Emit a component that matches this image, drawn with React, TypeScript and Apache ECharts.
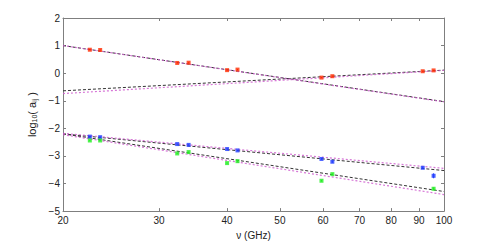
import React, { useEffect, useRef } from "react";
import * as echarts from "echarts";

// Frequencies (GHz) of the measured points
const nu = [22.4, 23.4, 32.4, 34.0, 40.0, 41.8, 59.6, 62.4, 91.4, 95.7];
// log10(a_ij) values
const redVals = [0.85, 0.84, 0.37, 0.38, 0.11, 0.13, -0.16, -0.11, 0.07, 0.1];
const blueVals = [-2.3, -2.32, -2.57, -2.6, -2.75, -2.8, -3.11, -3.21, -3.43, -3.72];
const greenVals = [-2.44, -2.44, -2.91, -2.86, -3.26, -3.19, -3.9, -3.66, null, -4.19];
// error bar half-heights
const redErr = [0.02, 0.02, 0.02, 0.02, 0.02, 0.02, 0.02, 0.02, 0.02, 0.02];
const blueErr = [0.02, 0.02, 0.02, 0.02, 0.02, 0.02, 0.03, 0.04, 0.03, 0.09];
const greenErr = [0.02, 0.02, 0.02, 0.02, 0.02, 0.02, 0.03, 0.03, 0.03, 0.05];

// fitted lines, values at the two ends of the axis
const fitNu = [20, 100];
const redFallBlack = [1.0, -1.03];
const redFallMagenta = [1.0, -1.04];
const redRiseBlack = [-0.64, 0.11];
const redRiseMagenta = [-0.74, 0.1];
const blueFitBlack = [-2.2, -3.53];
const blueFitMagenta = [-2.18, -3.45];
const greenFitBlack = [-2.2, -4.29];
const greenFitMagenta = [-2.23, -4.4];

// axis ticks
const xTicks = [20, 30, 40, 50, 60, 70, 80, 90, 100];
const yMin = -5;
const yMax = 2;

const lg = (v: number) => Math.log10(v);

export default function App() {
  const ref = useRef<HTMLDivElement>(null);
  useEffect(() => {
    if (!ref.current) return;
    const chart = echarts.init(ref.current, undefined, { renderer: "svg" });
    const xTickVals = xTicks.map(lg);
    const font = "Liberation Sans, Arial, sans-serif";
    const axisColor = "#7f7f7f";
    const textColor = "#222";

    const fitSeries = (vals: number[], black: boolean) => ({
      type: "line",
      data: fitNu.map((n, i) => [lg(n), vals[i]]),
      symbol: "none",
      silent: true,
      lineStyle: black
        ? { color: "#333", width: 1, type: [3, 2] as any }
        : { color: "#d060d0", width: 1.2, type: [2, 2] as any, opacity: 0.85 },
      z: black ? 2 : 3,
    });

    const pts = (vals: (number | null)[]) =>
      nu.map((n, i) => (vals[i] == null ? null : [lg(n), vals[i]])).filter((d) => d) as number[][];

    const errSeries = (vals: (number | null)[], errs: number[], color: string) => ({
      type: "custom",
      silent: true,
      z: 4,
      data: nu
        .map((n, i) => (vals[i] == null ? null : [lg(n), vals[i] as number, errs[i]]))
        .filter((d) => d),
      renderItem: (params: any, api: any) => {
        const x = api.value(0);
        const y = api.value(1);
        const e = api.value(2);
        const p1 = api.coord([x, y + e]);
        const p2 = api.coord([x, y - e]);
        return {
          type: "line",
          shape: { x1: p1[0], y1: p1[1], x2: p2[0], y2: p2[1] },
          style: { stroke: color, lineWidth: 1 },
        };
      },
    });

    const scatter = (vals: (number | null)[], color: string) => ({
      type: "scatter",
      data: pts(vals),
      symbol: "rect",
      symbolSize: 4,
      itemStyle: { color },
      z: 5,
    });

    const red = "#ff2a00";
    const blue = "#1f3cff";
    const green = "#22ee22";

    const axisLine = { onZero: false, lineStyle: { color: axisColor, width: 1 } };

    chart.setOption({
      animation: false,
      backgroundColor: "#fff",
      grid: { left: 63, right: 47, top: 18, bottom: 28 },
      xAxis: [
        {
          type: "value",
          min: lg(20),
          max: lg(100),
          position: "bottom",
          name: "ν (GHz)",
          nameLocation: "middle",
          nameGap: 13,
          nameTextStyle: { fontFamily: font, fontSize: 10, color: textColor },
          axisLine,
          axisTick: { inside: true, length: 3, customValues: xTickVals, lineStyle: { color: axisColor } },
          axisLabel: {
            customValues: xTickVals,
            formatter: (v: number) => String(Math.round(Math.pow(10, v))),
            fontFamily: font,
            fontSize: 10,
            color: textColor,
            margin: 4,
          },
          splitLine: { show: false },
        },
        {
          type: "value",
          min: lg(20),
          max: lg(100),
          position: "top",
          axisLine,
          axisTick: { inside: true, length: 3, customValues: xTickVals, lineStyle: { color: axisColor } },
          axisLabel: { show: false },
          splitLine: { show: false },
        },
      ],
      yAxis: [
        {
          type: "value",
          min: yMin,
          max: yMax,
          interval: 1,
          position: "left",
          name: "{m|log}{s|10}{m|( a}{s|ij}{m| )}",
          nameLocation: "middle",
          nameRotate: 90,
          nameGap: 19,
          nameTextStyle: {
            fontFamily: font,
            fontSize: 10,
            color: textColor,
            rich: {
              m: { fontFamily: font, fontSize: 11, color: textColor },
              s: { fontFamily: font, fontSize: 7, color: textColor, verticalAlign: "bottom" },
            },
          },
          axisLine: { show: true, ...axisLine },
          axisTick: { show: true, inside: true, length: 3, lineStyle: { color: axisColor } },
          axisLabel: {
            formatter: (v: number) => (v < 0 ? "\u2212" + Math.abs(v) : String(v)),
            fontFamily: font,
            fontSize: 10,
            color: textColor,
            margin: 3,
          },
          splitLine: { show: false },
        },
        {
          type: "value",
          min: yMin,
          max: yMax,
          interval: 1,
          position: "right",
          axisLine: { show: true, ...axisLine },
          axisTick: { show: true, inside: true, length: 3, lineStyle: { color: axisColor } },
          axisLabel: { show: false },
          splitLine: { show: false },
        },
      ],
      series: [
        fitSeries(redFallBlack, true),
        fitSeries(redFallMagenta, false),
        fitSeries(redRiseBlack, true),
        fitSeries(redRiseMagenta, false),
        fitSeries(blueFitBlack, true),
        fitSeries(blueFitMagenta, false),
        fitSeries(greenFitBlack, true),
        fitSeries(greenFitMagenta, false),
        errSeries(redVals, redErr, red),
        errSeries(blueVals, blueErr, blue),
        errSeries(greenVals, greenErr, green),
        scatter(redVals, red),
        scatter(blueVals, blue),
        scatter(greenVals, green),
      ],
    } as any);
    return () => chart.dispose();
  }, []);
  return (
    <div
      ref={ref}
      style={{ position: "fixed", left: 0, top: 0, width: 491, height: 245, background: "#fff" }}
    />
  );
}
